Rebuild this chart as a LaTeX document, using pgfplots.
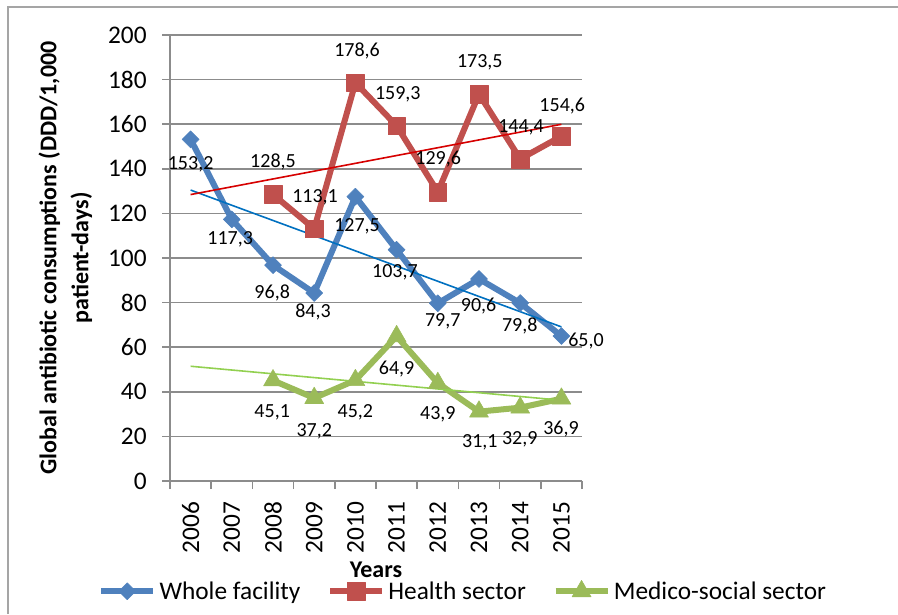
\documentclass[border=0pt]{standalone}
\usepackage{pgfplots}
\pgfplotsset{compat=1.18}
\usepackage{fontspec}
\setmainfont{Carlito}
\definecolor{cBlue}{RGB}{79,129,189}
\definecolor{cRed}{RGB}{192,80,77}
\definecolor{cGreen}{RGB}{155,187,89}
\definecolor{tBlue}{RGB}{0,112,192}
\definecolor{tRed}{RGB}{214,0,0}
\definecolor{tGreen}{RGB}{146,208,80}
\definecolor{gridgray}{RGB}{140,140,140}
\definecolor{framegray}{RGB}{165,165,165}
\tikzset{lab/.style={font=\fontsize{15}{15}\selectfont, inner sep=0pt, anchor=center, text height=0.63em, text depth=0pt}}
\begin{document}
\begin{tikzpicture}
\path[use as bounding box] (0,0) rectangle (673.5pt,460.5pt);
\draw[framegray, line width=1.1pt] (6pt,0pt) -- (6pt,455.25pt) -- (673.5pt,455.25pt);
\begin{axis}[
  at={(127.5pt,99.75pt)}, anchor=south west,
  scale only axis, width=309pt, height=334.5pt,
  xmin=-0.5, xmax=9.5, ymin=0, ymax=200,
  axis x line*=bottom, axis y line*=left,
  axis line style={draw=gridgray, line width=1.3pt},
  ytick={0,20,...,200},
  ymajorgrids, grid style={gridgray, line width=1.3pt},
  xtick={0,...,9}, xticklabels={2006,2007,2008,2009,2010,2011,2012,2013,2014,2015},
  minor xtick={-0.5,0.5,...,9.5},
  tick align=outside,
  tick style={gridgray, line width=1.3pt},
  major x tick style={draw=none},
  major tick length=6pt, minor tick length=6pt,
  ticklabel style={font=\fontsize{19}{19}\selectfont},
  /pgf/number format/assume math mode=true,
  yticklabel style={xshift=-8pt},
  xticklabel style={yshift=-6pt, rotate=90, anchor=east},
  every axis y label/.style={at={(axis description cs:-0.2524,0.5)}, anchor=center, rotate=90, font=\fontsize{18}{24}\selectfont\bfseries},
  ylabel={\begin{tabular}{@{}c@{}}Global antibiotic consumptions (DDD/1,000\\patient-days)\end{tabular}},
  every axis x label/.style={at={(axis description cs:0.5,-0.199)}, anchor=center, font=\fontsize{18}{18}\selectfont\bfseries},
  xlabel={Years},
  clip=false,
  legend columns=3,
  legend style={at={(0.709,-0.246)}, anchor=center, draw=none, fill=none, font=\fontsize{19}{19}\selectfont,
    inner sep=0pt, nodes={inner sep=0pt},
    /tikz/every odd column/.append style={column sep=2.5pt},
    /tikz/every even column/.append style={column sep=20pt}},
  legend image code/.code={\draw[mark repeat=2,mark phase=2] plot coordinates {(0pt,0pt) (19.5pt,0pt) (39pt,0pt)};},
]
\addplot[cBlue, line width=4.5pt, line join=round, mark=square*, mark size=4.5pt, mark options={rotate=45, solid, fill=cBlue, draw=cBlue, line width=0.4pt}]
  coordinates {(0,153.2) (1,117.3) (2,96.8) (3,84.3) (4,127.5) (5,103.7) (6,79.7) (7,90.6) (8,79.8) (9,65.0)};
\addlegendentry{Whole facility}
\addplot[cRed, line width=4.5pt, line join=round, mark=square*, mark size=6.6pt, mark options={solid, fill=cRed, draw=cRed, line width=0.4pt}]
  coordinates {(2,128.5) (3,113.1) (4,178.6) (5,159.3) (6,129.6) (7,173.5) (8,144.4) (9,154.6)};
\addlegendentry{Health sector}
\addplot[cGreen, line width=4.5pt, line join=round, mark=triangle*, mark size=8.2pt, mark options={solid, fill=cGreen, draw=cGreen, line width=0.4pt}]
  coordinates {(2,45.1) (3,37.2) (4,45.2) (5,64.9) (6,43.9) (7,31.1) (8,32.9) (9,36.9)};
\addlegendentry{Medico-social sector}
% linear trend lines
\addplot[tBlue, line width=1.2pt, forget plot] coordinates {(0,130.47) (9,69.11)};
\addplot[tRed, line width=1.2pt, forget plot] coordinates {(0,128.44) (9,159.96)};
\addplot[tGreen, line width=1.2pt, forget plot] coordinates {(0,51.46) (9,36.2)};
% data labels
\node[lab] at (axis cs:0,141.7) {153,2};
\node[lab] at (axis cs:0.96,108.1) {117,3};
\node[lab] at (axis cs:1.98,83.9) {96,8};
\node[lab] at (axis cs:2.97,75.3) {84,3};
\node[lab] at (axis cs:4.04,113.9) {127,5};
\node[lab] at (axis cs:4.96,93.3) {103,7};
\node[lab] at (axis cs:6.12,71.3) {79,7};
\node[lab] at (axis cs:6.99,78.0) {90,6};
\node[lab] at (axis cs:7.99,69.1) {79,8};
\node[lab, anchor=west] at (axis cs:9.16,62.3) {65,0};
\node[lab] at (axis cs:2.0,142.6) {128,5};
\node[lab] at (axis cs:3.02,126.9) {113,1};
\node[lab] at (axis cs:4.04,192.4) {178,6};
\node[lab] at (axis cs:5.03,173.1) {159,3};
\node[lab] at (axis cs:6.01,143.9) {129,6};
\node[lab] at (axis cs:7.02,187.4) {173,5};
\node[lab] at (axis cs:8.02,158.3) {144,4};
\node[lab] at (axis cs:9.02,167.7) {154,6};
\node[lab] at (axis cs:1.98,30.5) {45,1};
\node[lab] at (axis cs:3.0,22.0) {37,2};
\node[lab] at (axis cs:4.0,30.5) {45,2};
\node[lab] at (axis cs:5.0,49.8) {64,9};
\node[lab] at (axis cs:6.0,29.6) {43,9};
\node[lab] at (axis cs:7.02,17.0) {31,1};
\node[lab] at (axis cs:7.99,18.4) {32,9};
\node[lab] at (axis cs:8.99,22.9) {36,9};
\end{axis}
\end{tikzpicture}
\end{document}
